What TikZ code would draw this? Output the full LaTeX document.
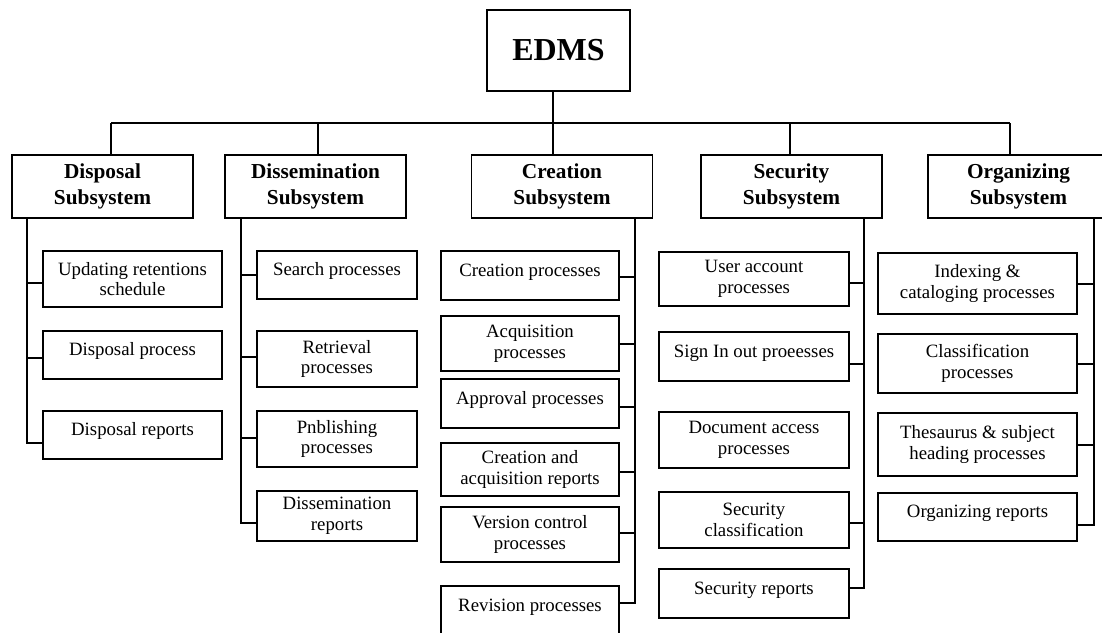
\documentclass[tikz,border=0pt]{standalone}
\usepackage{fontspec}
\setmainfont{Liberation Serif}

\tikzset{
  plainbox/.style={draw, line width=1.8pt, inner sep=0pt, align=center},
  root/.style={plainbox, minimum width=143pt, minimum height=81pt,
    font=\bfseries\fontsize{32}{36}\selectfont},
  subsys/.style={plainbox, minimum width=181pt, minimum height=63pt,
    font=\bfseries\fontsize{21.3}{26}\selectfont},
  proc/.style={plainbox, font=\fontsize{18.8}{20.7}\selectfont},
  oneline/.style={text height=13pt, text depth=12pt},
  link/.style={line width=1.8pt},
}

\begin{document}
\begin{tikzpicture}[x=1pt,y=-1pt]
    \useasboundingbox (0,0) rectangle (1102,632);
    \clip (0,0) rectangle (1102,632);

    % top level
    \node[root] (edms) at (558.5,50.5) {EDMS};

    \node[subsys] (dsp) at (102.5,186.5) {Disposal\\Subsystem};
    \node[subsys] (dis) at (315.5,186.5) {Dissemination\\Subsystem};
    \node[subsys] (cre) at (562,186.5) {Creation\\Subsystem};
    \node[subsys] (sec) at (791.5,186.5) {Security\\Subsystem};
    \node[subsys] (org) at (1018.5,186.5) {Organizing\\Subsystem};

    \foreach \h/\x in {dsp/111,dis/318,cre/553,sec/790,org/1010} {
        \coordinate (\h-drop) at (\x,123);
        \draw[link] (\h-drop) -- (\h-drop |- \h.north);
    }
    \draw[link] (dsp-drop) -- (org-drop);
    \draw[link] (cre-drop |- edms.south) -- (cre-drop);

    % disposal
    \begin{scope}[every node/.append style={minimum width=179pt}]
        \node[proc, minimum height=56pt] (dsp1) at (132.5,279) {Updating retentions\\schedule};
        \node[proc, oneline, minimum height=48pt] (dsp2) at (132.5,355) {Disposal process};
        \node[proc, oneline, minimum height=48pt] (dsp3) at (132.5,435) {Disposal reports};
    \end{scope}
    \coordinate (dsp-bus) at (27,218);
    \foreach \n/\d in {1/-4,2/-3,3/-8}
        \draw[link] (dsp-bus) |- ([yshift=\d pt]dsp\n.west);

    % dissemination
    \begin{scope}[every node/.append style={minimum width=160pt}]
        \node[proc, oneline, minimum height=48pt] (dis1) at (337,275) {Search processes};
        \node[proc, minimum height=56pt] (dis2) at (337,359) {Retrieval\\processes};
        \node[proc, minimum height=56pt] (dis3) at (337,439) {Pnblishing\\processes};
        \node[proc, minimum height=50pt] (dis4) at (337,516) {Dissemination\\reports};
    \end{scope}
    \coordinate (dis-bus) at (241,218);
    \foreach \n/\d in {1/0,2/2,3/1,4/-7}
        \draw[link] (dis-bus) |- ([yshift=\d pt]dis\n.west);

    % creation
    \begin{scope}[every node/.append style={minimum width=178pt}]
        \node[proc, oneline, minimum height=49pt] (cre1) at (530,275.5) {Creation processes};
        \node[proc, minimum height=55pt] (cre2) at (530,343.5) {Acquisition\\processes};
        \node[proc, oneline, minimum height=49pt] (cre3) at (530,403.5) {Approval processes};
        \node[proc, minimum height=53pt] (cre4) at (530,469.5) {Creation and\\acquisition reports};
        \node[proc, minimum height=55pt] (cre5) at (530,534.5) {Version control\\processes};
        \node[proc, oneline, minimum height=50pt] (cre6) at (530,611) {Revision processes};
    \end{scope}
    \coordinate (cre-bus) at (635,218);
    \foreach \n/\d in {1/-1.5,2/-0.5,3/-3.5,4/-2.5,5/1.5,6/8}
        \draw[link] (cre-bus) |- ([yshift=\d pt]cre\n.east);

    % security
    \begin{scope}[every node/.append style={minimum width=190pt}]
        \node[proc, minimum height=54pt] (sec1) at (754,279) {User account\\processes};
        \node[proc, oneline, minimum height=49pt] (sec2) at (754,356.5) {Sign In out proeesses};
        \node[proc, minimum height=56pt] (sec3) at (754,440) {Document access\\processes};
        \node[proc, minimum height=56pt] (sec4) at (754,520) {Security\\classification};
        \node[proc, oneline, minimum height=49pt] (sec5) at (754,593.5) {Security reports};
    \end{scope}
    \coordinate (sec-bus) at (864,218);
    \foreach \n/\d in {1/-4,2/-7.5,4/-3,5/5.5}
        \draw[link] (sec-bus) |- ([yshift=\d pt]sec\n.east);

    % organizing
    \begin{scope}[every node/.append style={minimum width=199pt}]
        \node[proc, minimum height=61pt] (org1) at (977.5,283.5) {Indexing \&\\cataloging processes};
        \node[proc, minimum height=59pt] (org2) at (977.5,363.5) {Classification\\processes};
        \node[proc, minimum height=63pt] (org3) at (977.5,444.5) {Thesaurus \& subject\\heading processes};
        \node[proc, oneline, minimum height=48pt] (org4) at (977.5,517) {Organizing reports};
    \end{scope}
    \coordinate (org-bus) at (1094,218);
    \foreach \n/\d in {1/-0.5,2/-0.5,3/-0.5,4/-8}
        \draw[link] (org-bus) |- ([yshift=\d pt]org\n.east);
\end{tikzpicture}
\end{document}
